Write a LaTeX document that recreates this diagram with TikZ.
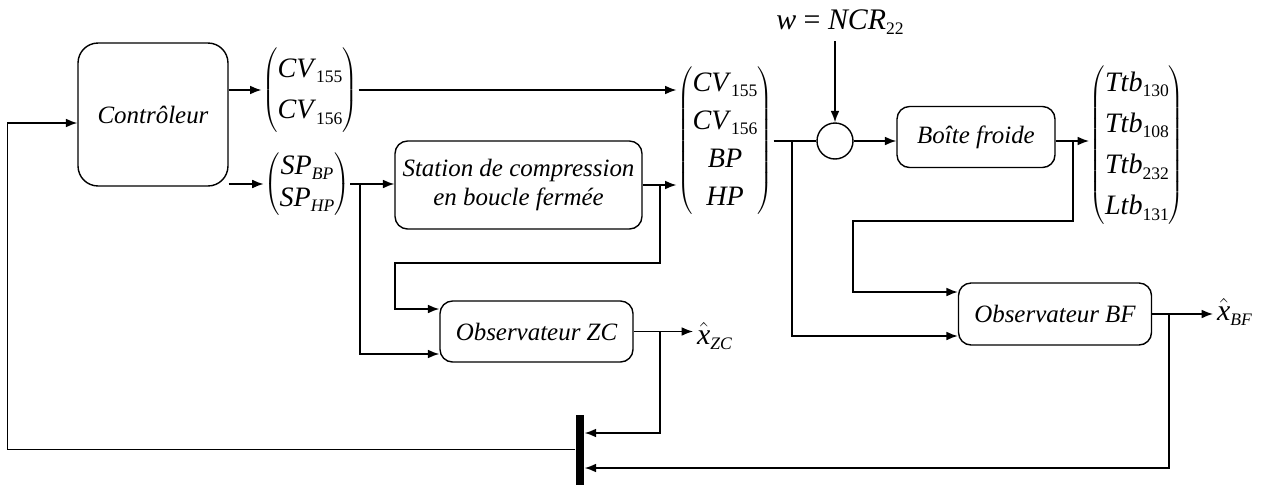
\documentclass[tikz,border=0pt]{standalone}
\usepackage{fontspec}
\setmainfont{Liberation Serif}
\usetikzlibrary{arrows.meta}

\newcommand{\diagfont}{\fontsize{14.2}{17}\selectfont}
\newcommand{\matfont}{\fontsize{16}{18}\selectfont}
\newcommand{\idx}[1]{\raisebox{-3pt}{\fontsize{10}{10}\selectfont #1}}
\newcommand{\vect}[2]{$\left(\renewcommand{\arraystretch}{#1}\begin{tabular}{@{}c@{}}#2\end{tabular}\right)$}
\newcommand{\xhat}{$\hat{\mbox{\fontsize{17}{18}\selectfont\itshape x}}$}

\begin{document}
\begin{tikzpicture}[x=0.02cm, y=-0.02cm, >={Latex[length=6.5pt,width=5pt]}, thick, font=\matfont,
    block/.style={draw, rounded corners=0.25cm, font=\diagfont\itshape, align=center, inner sep=0pt},
    junction/.style={draw, circle, minimum size=0.72cm, inner sep=0pt}]
    \useasboundingbox (0,0) rectangle (1268,484);

    % Blocks
    \node[block, rounded corners=0.4cm, minimum width=3cm, minimum height=2.86cm] (ctrl) at (153,114.5) {Contrôleur};
    \node[block, minimum width=4.94cm, minimum height=1.76cm] (station) at (518.5,185) {Station de compression\\en boucle fermée};
    \node[block, minimum width=3.16cm, minimum height=1.22cm] (coldbox) at (976,137) {Boîte froide};
    \node[block, minimum width=3.86cm, minimum height=1.22cm] (obszc) at (536.5,331.5) {Observateur ZC};
    \node[block, minimum width=3.86cm, minimum height=1.24cm] (obsbf) at (1055,314) {Observateur BF};
    \node[junction] (sum) at (835,141) {};
    \node[fill, minimum width=0.16cm, minimum height=1.4cm, inner sep=0pt] (bar) at (580,449.5) {};

    % Vectors
    \node[inner sep=0pt] (cv) at (310,90) {\vect{1.3}{\textit{CV}\idx{155}\\ \textit{CV}\idx{156}}};
    \node[inner sep=0pt] (sp) at (307,184) {\vect{1.01}{\textit{SP}\idx{\textit{BP}}\\ \textit{SP}\idx{\textit{HP}}}};
    \node[inner sep=0pt] (m3) at (725,141) {\vect{1.2}{\textit{CV}\idx{155}\\ \textit{CV}\idx{156}\\ \textit{BP}\\ \textit{HP}}};
    \node[inner sep=0pt] (m4) at (1137,145) {\vect{1.3}{\textit{Ttb}\idx{130}\\ \textit{Ttb}\idx{108}\\ \textit{Ttb}\idx{232}\\ \textit{Ltb}\idx{131}}};

    % Labels
    \node[font=\fontsize{17}{18}\selectfont] (w) at (840,22) {\textit{w} = \textit{NCR}\idx{22}};
    \node[right, inner sep=2pt] (xzc) at (693,336) {\xhat\idx{\textit{ZC}}};
    \node[right, inner sep=2pt] (xbf) at (1213,312) {\xhat\idx{\textit{BF}}};

    % Branch points
    \coordinate (b1) at (360,184);
    \coordinate (b2) at (660,185);
    \coordinate (b3) at (792,141);
    \coordinate (b4) at (1073,141);
    \coordinate (b5) at (660,331.5);
    \coordinate (b6) at (1169,314);

    % Controller outputs
    \draw[->] (ctrl.east |- cv) -- (cv);
    \draw[->] (ctrl.east |- sp) -- (sp);
    \draw[->] (cv) -- (cv -| m3.west);
    \draw[->] (sp) -- (sp -| station.west);
    \draw[->] (b1) |- ([yshift=-0.45cm]obszc.west);

    % Compression station
    \draw[->] (station) -- (station -| m3.west);
    \draw[->] (b2) -- ++(0,78) -- ++(-265,0) |- ([yshift=0.45cm]obszc.west);

    % Cold box
    \draw (m3.east |- sum) -- (sum);
    \draw[->] (w.south -| sum) -- (sum);
    \draw[->] (sum) -- (sum -| coldbox.west);
    \draw[->] (coldbox.east |- sum) -- (sum -| m4.west);
    \draw[->] (b3) |- ([yshift=-0.44cm]obsbf.west);
    \draw[->] (b4) -- ++(0,80) -- ++(-220,0) |- ([yshift=0.44cm]obsbf.west);

    % Observers and feedback
    \draw[->] (obszc.east) -- (obszc.east -| xzc.west);
    \draw[->] (obsbf.east) -- (obsbf.east -| xbf.west);
    \draw[->] (b5) |- ([yshift=0.33cm]bar.east);
    \draw[->] (b6) |- ([yshift=-0.37cm]bar.east);
    \draw[->] (bar.west) -- ++(-568,0) |- ([yshift=-0.17cm]ctrl.west);
\end{tikzpicture}
\end{document}
